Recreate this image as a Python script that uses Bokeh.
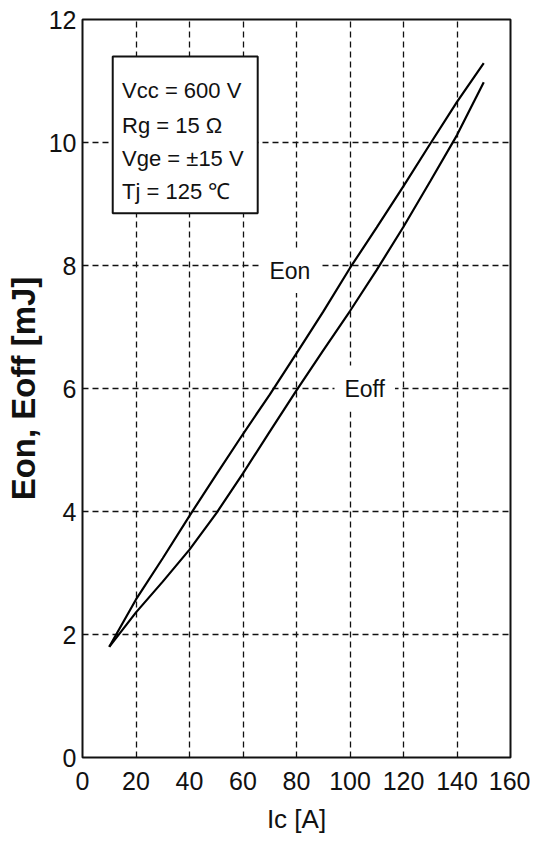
from bokeh.plotting import figure
from bokeh.models import Label, Range1d, FixedTicker
from bokeh.embed import file_html
from bokeh.resources import INLINE

# Data
ic = [10, 20, 30, 40, 50, 60, 70, 80, 90, 100, 110, 120, 130, 140, 150]
eon = [1.8, 2.57, 3.24, 3.93, 4.6, 5.26, 5.9, 6.57, 7.25, 7.96, 8.62, 9.29, 9.98, 10.66, 11.29]
eoff = [1.8, 2.36, 2.86, 3.38, 3.97, 4.62, 5.3, 5.97, 6.62, 7.26, 7.93, 8.63, 9.37, 10.12, 10.98]

x_ticks = [0, 20, 40, 60, 80, 100, 120, 140, 160]
y_ticks = [0, 2, 4, 6, 8, 10, 12]

cond_lines = ["Vcc = 600 V", "Rg = 15 \u03a9", "Vge = \u00b115 V", "Tj = 125 \u2103"]

SANS = "Liberation Sans"

p = figure(width=530, height=840, output_backend="svg", toolbar_location=None,
           x_range=Range1d(0, 160), y_range=Range1d(0, 12),
           min_border_left=82, min_border_right=20, min_border_top=19, min_border_bottom=83)

p.background_fill_color = "white"
p.border_fill_color = "white"
p.outline_line_color = "#111111"
p.outline_line_width = 2

for ax in (p.xaxis[0], p.yaxis[0]):
    ax.major_tick_out = 0
    ax.major_tick_in = 0
    ax.minor_tick_out = 0
    ax.minor_tick_in = 0
    ax.axis_line_color = None
    ax.major_label_text_font = SANS
    ax.major_label_text_font_size = "25px"
    ax.major_label_text_color = "#111111"

p.xaxis.ticker = FixedTicker(ticks=x_ticks)
p.yaxis.ticker = FixedTicker(ticks=y_ticks)
p.xaxis.major_label_standoff = 14
p.yaxis.major_label_standoff = 6

p.xaxis.axis_label = "Ic [A]"
p.xaxis.axis_label_text_font = SANS
p.xaxis.axis_label_text_font_size = "26px"
p.xaxis.axis_label_text_font_style = "normal"
p.xaxis.axis_label_text_color = "#111111"
p.xaxis.axis_label_standoff = 11

p.yaxis.axis_label = "Eon, Eoff [mJ]"
p.yaxis.axis_label_text_font = SANS
p.yaxis.axis_label_text_font_size = "33px"
p.yaxis.axis_label_text_font_style = "bold"
p.yaxis.axis_label_text_color = "#111111"
p.yaxis.axis_label_standoff = 4

p.xgrid.ticker = FixedTicker(ticks=x_ticks[1:-1])
p.ygrid.ticker = FixedTicker(ticks=y_ticks[1:-1])
for g in (p.xgrid[0], p.ygrid[0]):
    g.grid_line_color = "#111111"
    g.grid_line_width = 1.3
    g.grid_line_dash = "6 4"

# Condition box
p.quad(left=[11.3], right=[65.5], bottom=[8.85], top=[11.4],
       fill_color="white", line_color="#111111", line_width=2)

cond_y = [10.84, 10.28, 9.74, 9.2]
for txt, yy in zip(cond_lines, cond_y):
    p.add_layout(Label(x=14.8, y=yy, text=txt, text_font=SANS, text_font_size="22px",
                       text_color="#111111", text_baseline="alphabetic", text_align="left"))

# Curves
p.line(ic, eon, line_color="#000000", line_width=2.2)
p.line(ic, eoff, line_color="#000000", line_width=2.2)

p.add_layout(Label(x=66.5, y=7.91, text="Eon", text_font=SANS, text_font_size="23px",
                   text_color="#111111", text_baseline="middle", text_align="left",
                   background_fill_color="white", padding=9))
p.add_layout(Label(x=94.2, y=6.0, text="Eoff", text_font=SANS, text_font_size="23px",
                   text_color="#111111", text_baseline="middle", text_align="left",
                   background_fill_color="white", padding=10))

open("out.html", "w").write(file_html(p, INLINE))
